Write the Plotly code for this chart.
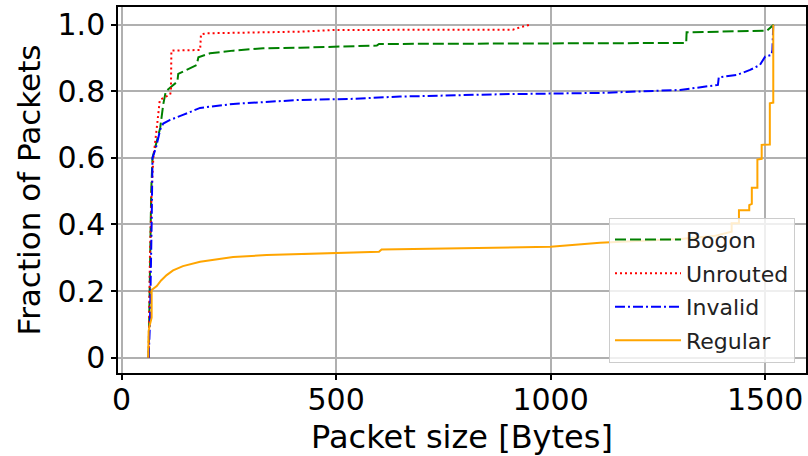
import plotly.graph_objects as go

# CDF of packet sizes per traffic class (size in bytes, cumulative fraction)
bogon_size = [63, 66, 69, 72, 80, 90, 97, 103, 117, 130, 132, 152, 175, 179, 206, 260, 330,
              416, 532, 595, 600, 1000, 1316, 1317, 1504, 1520]
bogon_frac = [0, 0.25, 0.5, 0.6, 0.64, 0.69, 0.76, 0.80, 0.815, 0.829, 0.852, 0.864, 0.879,
              0.902, 0.914, 0.922, 0.929, 0.931, 0.935, 0.937, 0.942, 0.944, 0.945, 0.977,
              0.982, 1.0]

unrouted_size = [63, 66, 70, 74, 82, 89, 100, 113, 115, 116, 183, 185, 198, 338, 416, 493,
                 912, 929, 952]
unrouted_frac = [0, 0.3, 0.5, 0.6, 0.69, 0.774, 0.782, 0.79, 0.80, 0.922, 0.924, 0.971,
                 0.974, 0.976, 0.979, 0.984, 0.985, 0.992, 1.0]

invalid_size = [63, 66, 70, 71, 72, 80, 86, 90, 97, 113, 143, 183, 260, 338, 416, 532, 649,
                882, 999, 1115, 1302, 1390, 1392, 1434, 1465, 1488, 1500, 1515, 1517, 1519]
invalid_frac = [0, 0.1, 0.4, 0.483, 0.6, 0.63, 0.66, 0.685, 0.703, 0.714, 0.729, 0.75,
                0.762, 0.769, 0.774, 0.777, 0.784, 0.791, 0.792, 0.795, 0.804, 0.819, 0.842,
                0.849, 0.864, 0.879, 0.904, 0.909, 0.924, 1.0]

regular_size = [62, 63, 66, 70, 70, 76, 82, 92, 105, 120, 143, 183, 260, 338, 497, 600, 606,
                1000, 1115, 1302, 1380, 1422, 1422, 1439, 1439, 1463, 1463, 1469, 1469, 1482,
                1482, 1492, 1492, 1511, 1511, 1519, 1519]
regular_frac = [0, 0.08, 0.10, 0.12, 0.203, 0.208, 0.215, 0.232, 0.248, 0.262, 0.275, 0.288,
                0.302, 0.308, 0.315, 0.318, 0.325, 0.333, 0.345, 0.356, 0.365, 0.378, 0.404,
                0.404, 0.443, 0.443, 0.458, 0.462, 0.51, 0.51, 0.595, 0.597, 0.639, 0.64,
                0.764, 0.766, 1.0]

x_ticks = [0, 500, 1000, 1500]
x_tick_text = ["0", "500", "1000", "1500"]
y_ticks = [0, 0.2, 0.4, 0.6, 0.8, 1.0]
y_tick_text = ["0", "0.2", "0.4", "0.6", "0.8", "1.0"]

series = [
    ("Bogon", bogon_size, bogon_frac, "green", "11px,4px"),
    ("Unrouted", unrouted_size, unrouted_frac, "red", "2px,3px"),
    ("Invalid", invalid_size, invalid_frac, "blue", "10px,3px,2px,3px"),
    ("Regular", regular_size, regular_frac, "orange", "solid"),
]

FONT = "DejaVu Sans"

fig = go.Figure()
for name, xs, ys, color, dash in series:
    fig.add_trace(go.Scatter(
        x=xs, y=ys, mode="lines", name=name, legendgroup=name,
        line=dict(color=color, width=2, dash=dash),
    ))

axis_common = dict(
    showline=True, mirror=True, linecolor="black", linewidth=1.5,
    showgrid=True, gridcolor="#b0b0b0", gridwidth=1.5, zeroline=False,
    ticks="outside", ticklen=5, tickwidth=1.5, tickcolor="black",
    tickfont=dict(family=FONT, size=30, color="black"),
)

fig.update_xaxes(
    range=[-8.4, 1595.3], tickvals=x_ticks, ticktext=x_tick_text,
    ticklabelstandoff=-6,
    title=dict(text="Packet size [Bytes]", font=dict(family=FONT, size=32, color="black"),
               standoff=10),
    **axis_common,
)
fig.update_yaxes(
    range=[-0.046, 1.053], tickvals=y_ticks, ticktext=y_tick_text,
    title=dict(text="Fraction of Packets", font=dict(family=FONT, size=31, color="black"),
               standoff=8),
    **axis_common,
)

fig.update_layout(
    width=808, height=456,
    margin=dict(l=118, r=2, t=7, b=83, autoexpand=False),
    plot_bgcolor="white", paper_bgcolor="white",
    font=dict(family=FONT, color="black"),
    legend=dict(
        x=0.984, y=0.028, xanchor="right", yanchor="bottom",
        bgcolor="rgba(255,255,255,0.8)", bordercolor="#cccccc", borderwidth=1,
        font=dict(family=FONT, size=22, color="#222222"),
        tracegroupgap=2, itemwidth=66,
    ),
)

fig.write_html("out.html")
